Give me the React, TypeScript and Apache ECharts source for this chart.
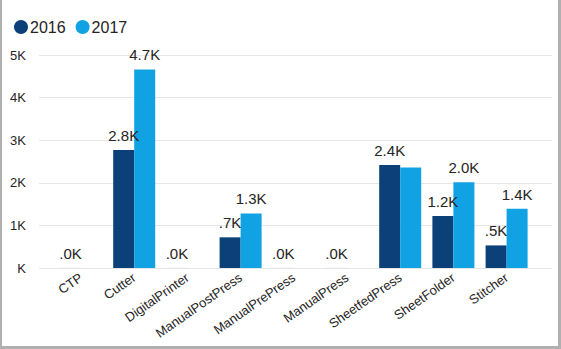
import React, { useEffect, useRef } from "react";
import * as echarts from "echarts";

const categories = [
  "CTP",
  "Cutter",
  "DigitalPrinter",
  "ManualPostPress",
  "ManualPrePress",
  "ManualPress",
  "SheetfedPress",
  "SheetFolder",
  "Stitcher",
];
const values2016 = [1, 2770, 1, 720, 1, 1, 2420, 1220, 530];
const values2017: (number | null)[] = [null, 4660, null, 1280, null, null, 2360, 2010, 1390];
const hiddenLabels2017 = [6];
const yTicks = [0, 1000, 2000, 3000, 4000, 5000];

const DARK = "#0B4078";
const LIGHT = "#10A2E3";

function fmtK(v: number): string {
  const s = (v / 1000).toFixed(1);
  return (s.startsWith("0") ? s.slice(1) : s) + "K";
}

export default function App() {
  const ref = useRef<HTMLDivElement>(null);
  useEffect(() => {
    if (!ref.current) return;
    const chart = echarts.init(ref.current, undefined, { renderer: "svg" });
    const labelStyle = {
      show: true,
      position: "top" as const,
      distance: 7,
      fontFamily: "Arial, Liberation Sans, sans-serif",
      fontSize: 15,
      color: "#252423",
      formatter: (p: any) => fmtK(p.value),
    };
    chart.setOption({
      animation: false,
      backgroundColor: "#ffffff",
      legend: {
        left: 9,
        top: 14,
        icon: "circle",
        itemWidth: 14,
        itemHeight: 14,
        itemGap: 10,
        textStyle: {
          fontFamily: "Arial, Liberation Sans, sans-serif",
          fontSize: 16,
          color: "#252423",
          padding: [0, 0, 0, -3],
        },
        data: [
          { name: "2016", itemStyle: { color: DARK } },
          { name: "2017", itemStyle: { color: LIGHT } },
        ],
      },
      grid: [
        { left: 39, width: 513, top: 55, height: 213 },
        { left: 54.4, width: 478.8, top: 55, height: 213 },
      ],
      xAxis: [
        { type: "category", gridIndex: 0, data: categories, show: false },
        {
          type: "category",
          gridIndex: 1,
          data: categories,
          axisLine: { show: false },
          axisTick: { show: false },
          axisLabel: {
            rotate: 35,
            interval: 0,
            margin: 8,
            fontFamily: "Arial, Liberation Sans, sans-serif",
            fontSize: 13,
            color: "#252423",
          },
        },
      ],
      yAxis: [
        {
          type: "value",
          gridIndex: 0,
          min: yTicks[0],
          max: yTicks[yTicks.length - 1],
          interval: 1000,
          axisLine: { show: false },
          axisTick: { show: false },
          splitLine: { lineStyle: { color: "#e6e6e6", width: 1 } },
          axisLabel: {
            margin: 13,
            fontFamily: "Arial, Liberation Sans, sans-serif",
            fontSize: 13,
            color: "#252423",
            formatter: (v: number) => (v === 0 ? "K" : v / 1000 + "K"),
          },
        },
        {
          type: "value",
          gridIndex: 1,
          min: yTicks[0],
          max: yTicks[yTicks.length - 1],
          interval: 1000,
          show: false,
          splitLine: { show: false },
        },
      ],
      series: [
        {
          name: "2016",
          type: "bar",
          xAxisIndex: 1,
          yAxisIndex: 1,
          data: values2016,
          barWidth: 21,
          barGap: "0%",
          itemStyle: { color: DARK },
          label: labelStyle,
        },
        {
          name: "2017",
          type: "bar",
          xAxisIndex: 1,
          yAxisIndex: 1,
          data: values2017.map((v, i) =>
            hiddenLabels2017.includes(i) ? { value: v, label: { show: false } } : v
          ),
          barWidth: 21,
          barGap: "0%",
          itemStyle: { color: LIGHT },
          label: labelStyle,
        },
      ],
      graphic: [
        { type: "rect", shape: { x: 0, y: 0, width: 2, height: 349 }, style: { fill: "#b0b0b0" } },
        { type: "rect", shape: { x: 558, y: 0, width: 3, height: 349 }, style: { fill: "#b0b0b0" } },
        { type: "rect", shape: { x: 0, y: 346, width: 561, height: 3 }, style: { fill: "#b0b0b0" } },
      ],
    });
    return () => chart.dispose();
  }, []);
  return (
    <div
      ref={ref}
      style={{ position: "fixed", left: 0, top: 0, width: 561, height: 349 }}
    />
  );
}
